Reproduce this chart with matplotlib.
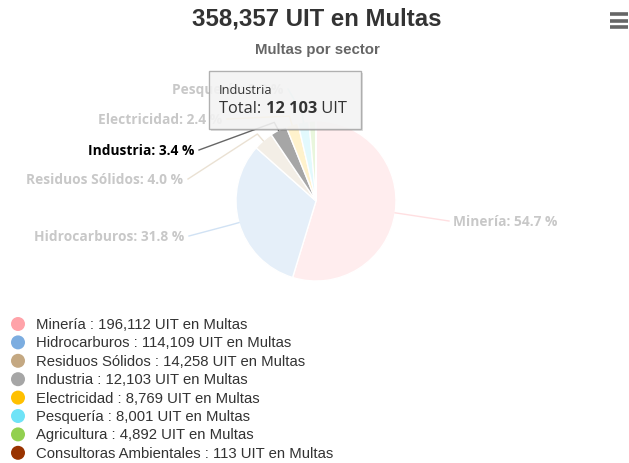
import numpy as np
import matplotlib
matplotlib.use("Agg")
import matplotlib.pyplot as plt
from matplotlib.patches import Rectangle, Circle
from matplotlib.colors import to_rgb

# ── data ─────────────────────────────────────────────────────────────
sectors = ["Minería", "Hidrocarburos", "Residuos Sólidos", "Industria",
           "Electricidad", "Pesquería", "Agricultura", "Consultoras Ambientales"]
multas = [196112, 114109, 14258, 12103, 8769, 8001, 4892, 113]
colors = ["#ffa3a9", "#7cade0", "#c4a882", "#a6a6a6",
          "#ffc000", "#6fe3f7", "#92d050", "#993300"]
hovered = "Industria"
total = sum(multas)

W, H = 629, 464


def Y(py):
    return H - py


def faded(c, a=0.2):
    r, g, b = to_rgb(c)
    return (1 - a + a * r, 1 - a + a * g, 1 - a + a * b)


fig = plt.figure(figsize=(W / 100, H / 100), dpi=100)
ax = fig.add_axes([0, 0, 1, 1])

# ── pie ──────────────────────────────────────────────────────────────
cx, cy, R = 316, 202, 80
slice_colors = [c if s == hovered else faded(c) for s, c in zip(sectors, colors)]
wedges, _ = ax.pie(multas, colors=slice_colors, startangle=90, counterclock=False,
                   center=(cx, Y(cy)), radius=R,
                   wedgeprops=dict(edgecolor="white", linewidth=1))
ax.set_xlim(0, W)
ax.set_ylim(0, H)
ax.set_aspect("equal")
ax.axis("off")

# data labels: (anchor x, y, ha) -- layout only
label_pos = {
    "Minería": (453, 222, "left"),
    "Hidrocarburos": (184, 237, "right"),
    "Residuos Sólidos": (183, 180, "right"),
    "Industria": (194, 151, "right"),
    "Electricidad": (222, 120, "right"),
    "Pesquería": (283, 90, "right"),
}
for w, s, c, v in zip(wedges, sectors, colors, multas):
    if s not in label_pos:
        continue
    lx, ly, ha = label_pos[s]
    pct = 100 * v / total
    active = s == hovered
    mid = np.deg2rad((w.theta1 + w.theta2) / 2)
    ex, ey = cx + R * np.cos(mid), Y(cy) + R * np.sin(mid)
    bx, by = cx + (R + 9) * np.cos(mid), Y(cy) + (R + 9) * np.sin(mid)
    sx = lx - 4 if ha == "left" else lx + 5
    lc = "#666666" if active else faded(c, 0.35)
    ax.plot([sx, bx, ex], [Y(ly), by, ey], color=lc, lw=1, zorder=1)
    ax.text(lx, Y(ly), f"{s}: {pct:.1f} %", ha=ha, va="center",
            family="Open Sans", weight="bold", fontsize=9.9,
            color="#000000" if active else "#c8c8c8", zorder=3)

# ── tooltip ──────────────────────────────────────────────────────────
tx0, ty0, tx1, ty1 = 209, 72, 361, 130
ax.add_patch(Rectangle((tx0 + 2, Y(ty1) - 2), tx1 - tx0, ty1 - ty0,
                       fc="#000000", alpha=0.12, ec="none", zorder=4))
ax.add_patch(Rectangle((tx0, Y(ty1)), tx1 - tx0, ty1 - ty0,
                       fc="#f7f7f7", alpha=0.88, ec="#a6a6a6", lw=1, zorder=5))
ax.text(219, Y(90), hovered, fontsize=9.2, family="Open Sans",
        color="#333333", va="center", zorder=6)
idx = sectors.index(hovered)
renderer = fig.canvas.get_renderer()
x = 219
for part, wt in [("Total: ", "normal"),
                 (f"{multas[idx]:,}".replace(",", " "), "bold"),
                 (" UIT", "normal")]:
    t = ax.text(x, Y(109), part, fontsize=11.8, family="Open Sans",
                weight=wt, color="#333333", va="center", zorder=6)
    x = t.get_window_extent(renderer).x1

# ── titles ───────────────────────────────────────────────────────────
ax.text(317, Y(19), f"{total:,} UIT en Multas", ha="center", va="center",
        family="Liberation Sans", weight="bold", fontsize=17.3, color="#333333")
ax.text(317, Y(50), "Multas por sector", ha="center", va="center",
        family="Liberation Sans", weight="bold", fontsize=10.8, color="#666666")

# hamburger menu
for yy in (15, 21.5, 28):
    ax.plot([610, 628], [Y(yy), Y(yy)], color="#666666", lw=2.6,
            solid_capstyle="butt")

# ── legend ───────────────────────────────────────────────────────────
ly0, dy = 325, 18.4
for i, (s, c, v) in enumerate(zip(sectors, colors, multas)):
    yy = Y(ly0 + i * dy)
    ax.add_patch(Circle((18, yy), 7, fc=c, ec="none"))
    ax.text(36, yy, f"{s} : {v:,} UIT en Multas", va="center",
            family="Liberation Sans", fontsize=10.75, color="#333333")

fig.savefig("out.png", dpi=100)
